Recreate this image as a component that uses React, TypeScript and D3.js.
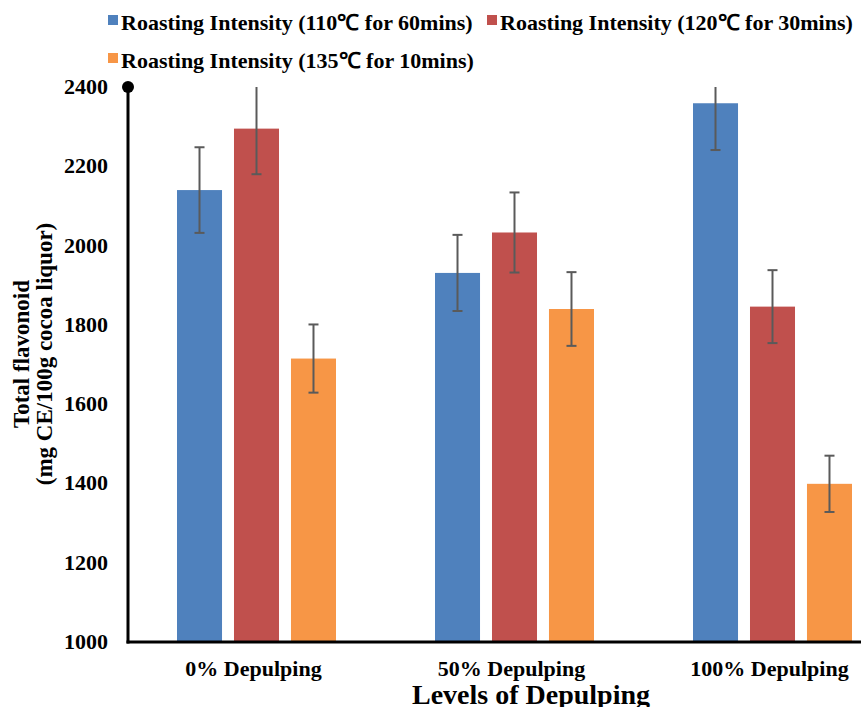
import React, { useRef, useEffect } from 'react';
import * as d3 from 'd3';

// chart data
const categories = ['0% Depulping', '50% Depulping', '100% Depulping'];
const seriesNames = [
  'Roasting Intensity (110\u2103 for 60mins)',
  'Roasting Intensity (120\u2103 for 30mins)',
  'Roasting Intensity (135\u2103 for 10mins)',
];
const seriesColors = ['#4F81BD', '#C0504D', '#F79646'];
const roast110 = [2140, 1931, 2359];
const roast120 = [2295, 2033, 1846];
const roast135 = [1715, 1840, 1399];
const err110 = [108, 96, 118];
const err120 = [115, 101, 92];
const err135 = [86, 93, 71];
const yTicks = [1000, 1200, 1400, 1600, 1800, 2000, 2200, 2400];

const FONT = '"Liberation Serif", "Times New Roman", serif';

const App = () => {
  const svgRef = useRef<SVGSVGElement | null>(null);

  useEffect(() => {
    const svg = d3.select(svgRef.current);
    svg.selectAll('*').remove();

    const width = 861;
    const left = 128;
    const top = 87;
    const bottom = 642;

    const values = [roast110, roast120, roast135];
    const errors = [err110, err120, err135];

    const rows = categories.map((cat, i) => ({
      cat,
      bars: seriesNames.map((s, j) => ({ s, j, v: values[j][i], e: errors[j][i] })),
    }));

    // plot area runs past the right edge of the picture, as in the original
    const x0 = d3.scaleBand().domain(categories).range([left - 0.5, left - 0.5 + 774]);
    const x1 = d3.scaleBand<number>()
      .domain([0, 1, 2])
      .range([49.5, 208.5])
      .paddingInner(0.21);
    const y = d3.scaleLinear().domain([1000, 2400]).range([bottom, top]);

    svg.append('defs')
      .append('clipPath')
      .attr('id', 'plot-clip')
      .append('rect')
      .attr('x', left)
      .attr('y', top)
      .attr('width', width - left)
      .attr('height', bottom - top);

    // bars
    const groups = svg.append('g')
      .attr('clip-path', 'url(#plot-clip)')
      .selectAll('g')
      .data(rows)
      .enter()
      .append('g')
      .attr('transform', d => `translate(${x0(d.cat)},0)`);

    groups.selectAll('rect')
      .data(d => d.bars)
      .enter()
      .append('rect')
      .attr('x', d => x1(d.j)!)
      .attr('y', d => y(d.v))
      .attr('width', x1.bandwidth())
      .attr('height', d => bottom - y(d.v))
      .attr('fill', d => seriesColors[d.j]);

    // error bars
    const eb = groups.selectAll('g.err')
      .data(d => d.bars)
      .enter()
      .append('g')
      .attr('class', 'err')
      .attr('stroke', '#5a5a5a')
      .attr('stroke-width', 2);

    eb.append('line')
      .attr('x1', d => x1(d.j)! + x1.bandwidth() / 2)
      .attr('x2', d => x1(d.j)! + x1.bandwidth() / 2)
      .attr('y1', d => y(d.v + d.e))
      .attr('y2', d => y(d.v - d.e));

    [1, -1].forEach(sign => {
      eb.append('line')
        .attr('x1', d => x1(d.j)! + x1.bandwidth() / 2 - 5)
        .attr('x2', d => x1(d.j)! + x1.bandwidth() / 2 + 5)
        .attr('y1', d => y(d.v + sign * d.e))
        .attr('y2', d => y(d.v + sign * d.e));
    });

    // axes
    svg.append('line')
      .attr('x1', left).attr('x2', left)
      .attr('y1', top).attr('y2', bottom + 1.5)
      .attr('stroke', '#000').attr('stroke-width', 3);
    svg.append('circle')
      .attr('cx', left).attr('cy', top).attr('r', 6)
      .attr('fill', '#000');
    svg.append('line')
      .attr('x1', left - 1.5).attr('x2', width)
      .attr('y1', bottom).attr('y2', bottom)
      .attr('stroke', '#000').attr('stroke-width', 3);

    svg.append('g')
      .selectAll('text')
      .data(yTicks)
      .enter()
      .append('text')
      .attr('x', 108)
      .attr('y', d => y(d) + 7)
      .attr('text-anchor', 'end')
      .attr('font-family', FONT)
      .attr('font-weight', 'bold')
      .attr('font-size', 22)
      .text(d => d);

    svg.append('g')
      .selectAll('text')
      .data(categories)
      .enter()
      .append('text')
      .attr('x', d => x0(d)! + x0.bandwidth() / 2 - 3)
      .attr('y', 676)
      .attr('text-anchor', 'middle')
      .attr('font-family', FONT)
      .attr('font-weight', 'bold')
      .attr('font-size', 22)
      .text(d => d);

    svg.append('text')
      .attr('x', 531)
      .attr('y', 704)
      .attr('text-anchor', 'middle')
      .attr('font-family', FONT)
      .attr('font-weight', 'bold')
      .attr('font-size', 28)
      .text('Levels of Depulping');

    const yTitle = svg.append('text')
      .attr('transform', 'translate(0,354) rotate(-90)')
      .attr('text-anchor', 'middle')
      .attr('font-family', FONT)
      .attr('font-weight', 'bold')
      .attr('font-size', 23);
    yTitle.append('tspan').attr('x', 0).attr('y', 29).text('Total flavonoid');
    yTitle.append('tspan').attr('x', 0).attr('y', 52).text('(mg CE/100g cocoa liquor)');

    // legend
    const legendPos = [[108, 30], [487, 30], [108, 68]];
    const legend = svg.append('g')
      .selectAll('g')
      .data(seriesNames)
      .enter()
      .append('g')
      .attr('transform', (d, i) => `translate(${legendPos[i][0]},${legendPos[i][1]})`);
    legend.append('rect')
      .attr('x', 0).attr('y', -15)
      .attr('width', 10).attr('height', 10)
      .attr('fill', (d, i) => seriesColors[i]);
    legend.append('text')
      .attr('x', 13)
      .attr('y', 0)
      .attr('font-family', FONT)
      .attr('font-weight', 'bold')
      .attr('font-size', 22)
      .text(d => d);
  }, []);

  return (
    <svg
      ref={svgRef}
      width={861}
      height={707}
      style={{ position: 'fixed', left: 0, top: 0, background: '#fff' }}
    />
  );
};

export default App;
